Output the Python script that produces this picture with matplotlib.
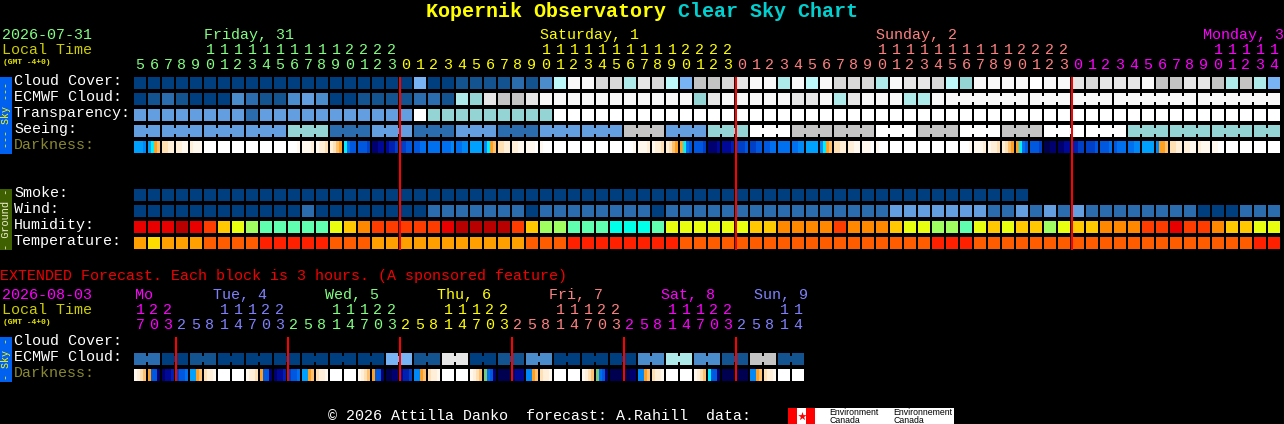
import matplotlib
matplotlib.use("Agg")
import matplotlib.pyplot as plt

# ---------- data ----------
cell_colors = dict(a="#003f7f", b="#13538f", c="#2a6cad", d="#4a8ccc", e="#639fe0", f="#77b3f5",
                   g="#bdf8fa", h="#aeeaea", i="#94d4d4", j="#c4c4c4", n="#d8d8d8", k="#e6e6e6",
                   l="#f8f8f8", m="#ffffff",
                   A="#b80000", B="#e80000", C="#ff3c00", D="#ff8800", E="#ffc800", F="#e8ff10",
                   G="#a0ff60", H="#60ffb0", I="#00ffe8",
                   P="#ffa000", Q="#ffdc00", R="#ff5c00", S="#ff2000")
dark_colors = {"0": "#ffffff", "1": "#fff8ee", "2": "#ffefd8", "3": "#ffdfb4", "4": "#ffc070",
               "5": "#ffa020", "6": "#00f0ff", "7": "#00a0ff", "8": "#0088f8", "9": "#0070f0",
               "a": "#0058e0", "b": "#0040c8", "c": "#0020b0", "d": "#000898", "e": "#000070",
               "f": "#000050", "g": "#78c878"}

cloud_cover = ("aaaaaaaaaa" "aaaaaaaaaa" "faabbbbcbd" "gllnnhkngf" "jjnkllhlgl"
               "nnnhlkkngi" "llllmllknk" "kkljjkkjhj" "hf")
ecmwf_cloud = ("abcbaaadcb" "bdedaabbbb" "ccbhikjjkl" "llllllllll" "iklllllkkl"
               "hklllhhlll" "llllllllll" "llllllllll" "ll")
ecmwf_groups = [(58, 63), (64, 66), (67, 69), (70, 75), (76, 81)]
transparency = ("eeeeeeeeceee" "eeeeeeee" "m" "iiiiiiiii" + "m" * 52)
seeing = ("ee" "eee" "eee" "eee" "iii" "ccc" "eee" "ccc" "eee" "ccc" "eee" "eee" "jjj" "eee"
          "iii" "mmm" "jjj" "jjj" "mmm" "jjj" "mmm" "jjj" "mmm" "mmm" "iii" "iii" "iii" "ii")
darkness = ["7778", "7654", "3322", "2211", "2111", "0000", "0000", "0000", "0000", "0000",
            "0000", "0001", "1112", "1223", "2345", "69aa", "aaab", "eedd", "dccb", "bbaa",
            "aa99", "9999", "9998", "9988", "7777", "8654", "3322", "2211", "1110", "1000",
            "0000", "0000", "0000", "0000", "0000", "0001", "1112", "1223", "2345", "569a",
            "aaab", "eeed", "dddc", "bbba", "bbaa", "aa99", "9999", "9988", "7777", "8654",
            "3322", "2211", "1110", "1000", "0000", "0000", "0000", "0000", "0000", "0001",
            "1112", "1223", "2345", "569a", "aaab", "ffee", "eedd", "ccbb", "bbba", "aaa9",
            "a999", "9988", "7777", "8554", "3322", "2211", "2111", "1100", "0000", "0000",
            "0000", "0000"]
smoke = "a" * 64
wind = ("aaaaaaaaaa" "aacaaaaaaa" "acccccccac" "cccccccacc" "cccccccccc"
        "cccceeeeee" "eccecececc" "ccccccaaac" "cc")
humidity = ("BBBABCEFGH" "HHHHFEDCCC" "CCBAAAACEG" "GHHHIIIHFF" "FFFFEEDDDD"
            "CDDDEFFGGH" "FEFEEGFEED" "DDCCBCCDEE" "FF")
temperature = ("PQPPPRRRRS" "SSSSRRRPPP" "PPPPPPPPRR" "RSSSSSSSSR" "RRRRRRRRRR"
               "RRRRRRRSSS" "RRRRRRRRRR" "RRRRRRRRRR" "SS")

ext_ecmwf_pairs = "cabaaaaaafbkabdaaadhdbjb"
ext_darkness = ["1234", "5aae", "eddc", "baa9", "7754", "3221", "0000", "0000",
                "1223", "5aae", "eddc", "baa9", "7754", "3221", "0000", "0000",
                "1234", "5aae", "ffee", "dccb", "8854", "3221", "0000", "0000",
                "1234", "g9ae", "ffff", "eddd", "8854", "3221", "0000", "0000",
                "1234", "g9ae", "ffff", "ffee", "8854", "3221", "0000", "0000",
                "1234", "6aae", "ffff", "ffff", "8854", "3221", "0000", "0000"]

GREEN, YELLOW, SALMON, MAGENTA, BLUE = "#80ff80", "#ffff00", "#ff8080", "#ff00ff", "#8080ff"
top_hours = [5, 6, 7, 8, 9, 10, 11, 12, 13, 14, 15, 16, 17, 18, 19, 20, 21, 22, 23] + \
            [0, 1, 2, 3, 4, 5, 6, 7, 8, 9, 10, 11, 12, 13, 14, 15, 16, 17, 18, 19, 20, 21, 22, 23] + \
            [0, 1, 2, 3, 4, 5, 6, 7, 8, 9, 10, 11, 12, 13, 14, 15, 16, 17, 18, 19, 20, 21, 22, 23] + \
            [0, 1, 2, 3, 4, 5, 6, 7, 8, 9, 10, 11, 12, 13, 14]
top_hour_colors = [GREEN] * 19 + [YELLOW] * 24 + [SALMON] * 24 + [MAGENTA] * 15
top_days = [("Friday, 31", 204, GREEN), ("Saturday, 1", 540, YELLOW),
            ("Sunday, 2", 876, SALMON), ("Monday, 3", 1203, MAGENTA)]
top_midnights = [19, 43, 67]

day_hours = [2, 5, 8, 11, 14, 17, 20, 23]
ext_hours = [17, 20, 23] + day_hours * 5 + [2, 5, 8, 11, 14]
ext_hour_colors = [MAGENTA] * 3 + [BLUE] * 8 + [GREEN] * 8 + [YELLOW] * 8 + [SALMON] * 8 + \
                  [MAGENTA] * 8 + [BLUE] * 5
ext_days = [("Mo", 135, MAGENTA), ("Tue, 4", 213, BLUE), ("Wed, 5", 325, GREEN),
            ("Thu, 6", 437, YELLOW), ("Fri, 7", 549, SALMON), ("Sat, 8", 661, MAGENTA),
            ("Sun, 9", 754, BLUE)]
ext_midnights = [3, 11, 19, 27, 35, 43]

# ---------- layout ----------
X0, PITCH, CELL = 134, 14, 12
FONT = "Liberation Mono"
FS = 10.8

fig = plt.figure(figsize=(12.84, 4.24), dpi=100, facecolor="black")
ax = fig.add_axes([0, 0, 1, 1])
ax.set_xlim(0, 1284)
ax.set_ylim(424, 0)
ax.axis("off")


def col_x(i):
    return X0 + PITCH * i


def box(x, y, w, h, color, zorder=2):
    ax.bar(x, h, width=w, bottom=y, align="edge", color=color, linewidth=0,
           antialiased=True, snap=False, zorder=zorder)


def text(x, y, s, color="#ffffff", size=FS, **kw):
    kw.setdefault("family", FONT)
    ax.text(x, y, s, color=color, fontsize=size, va="baseline", ha=kw.pop("ha", "left"),
            clip_on=True, **kw)


def draw_row(values, y, links=()):
    for i, v in enumerate(values):
        box(col_x(i), y, CELL, CELL, cell_colors[v])
    for a, b in links:
        for i in range(a, b):
            box(col_x(i) + CELL, y + 3, PITCH - CELL, 6, cell_colors[values[i]])


def draw_dark(values, y):
    for i, v in enumerate(values):
        for k, ch in enumerate(v):
            box(col_x(i) + 3 * k, y, 3, CELL, dark_colors[ch])


def draw_hours(hours, colors, y_tens, y_ones):
    for i, (h, c) in enumerate(zip(hours, colors)):
        cx = col_x(i) + 6
        if h >= 10:
            text(cx, y_tens, str(h // 10), c, ha="center")
        text(cx, y_ones, str(h % 10), c, ha="center")


# ---------- title ----------
text(426, 17, "Kopernik Observatory", "#ffff00", 14.4, weight="bold")
text(678, 17, "Clear Sky Chart", "#00d0d0", 14.4, weight="bold")

# ---------- top header ----------
text(2, 39, "2026-07-31", GREEN)
text(2, 54, "Local Time", "#cccc00")
text(3, 64, "(GMT -4+0)", "#e8e800", 5.8, weight="bold")
for label, x, c in top_days:
    text(x, 39, label, c)
draw_hours(top_hours, top_hour_colors, 54, 69)

# ---------- top rows ----------
for label, y, c in [("Cloud Cover:", 85, "#ffffff"), ("ECMWF Cloud:", 101, "#ffffff"),
                    ("Transparency:", 117, "#ffffff"), ("Seeing:", 133, "#ffffff"),
                    ("Darkness:", 149, "#888830"), ("Smoke:", 197, "#ffffff"),
                    ("Wind:", 213, "#ffffff"), ("Humidity:", 229, "#ffffff"),
                    ("Temperature:", 245, "#ffffff")]:
    text(14, y, label, c)

draw_row(cloud_cover, 77)
draw_row(ecmwf_cloud, 93, ecmwf_groups)
draw_row(transparency, 109)
seeing_links = [(0, 1)] + [(s, min(s + 2, 81)) for s in range(2, 82, 3)]
draw_row(seeing, 125, seeing_links)
draw_dark(darkness, 141)
draw_row(smoke, 189)
draw_row(wind, 205)
draw_row(humidity, 221)
draw_row(temperature, 237)

for c in top_midnights:
    box(col_x(c) - 1, 77, 2, 173, "#ff0000", zorder=4)

# ---------- side bars ----------
box(0, 77, 12, 77, "#0060f0")
ax.text(6, 115.5, "--- Sky ---", color="#ffff00", rotation=90, family=FONT, fontsize=7.2,
        ha="center", va="center")
box(0, 189, 12, 61, "#3f6000")
ax.text(6, 219.5, "- Ground -", color="#f0f0d0", rotation=90, family=FONT, fontsize=7.4,
        ha="center", va="center")
box(0, 337, 12, 45, "#0060f0")
ax.text(6, 359.5, "- Sky -", color="#ffff00", rotation=90, family=FONT, fontsize=7.2,
        ha="center", va="center")

# ---------- extended ----------
text(0, 280, "EXTENDED Forecast. Each block is 3 hours. (A sponsored feature)", "#f00000")
text(2, 299, "2026-08-03", MAGENTA)
text(2, 314, "Local Time", "#cccc00")
text(3, 324, "(GMT -4+0)", "#e8e800", 5.8, weight="bold")
for label, x, c in ext_days:
    text(x, 299, label, c)
draw_hours(ext_hours, ext_hour_colors, 314, 329)
text(14, 345, "Cloud Cover:")
text(14, 361, "ECMWF Cloud:")
text(14, 377, "Darkness:", "#888830")

ext_ecmwf = "".join(p * 2 for p in ext_ecmwf_pairs)
draw_row(ext_ecmwf, 353, [(s, s + 1) for s in range(0, 48, 2)])
draw_dark(ext_darkness, 369)
for c in ext_midnights:
    box(col_x(c) - 1, 337, 2, 44, "#ff0000", zorder=4)

# ---------- footer ----------
text(328, 420, "\u00a9 2026 Attilla Danko  forecast: A.Rahill  data:")
box(788, 408, 166, 16, "#ffffff")
box(788, 408, 9, 16, "#ff0000", zorder=3)
box(806, 408, 9, 16, "#ff0000", zorder=3)
ax.scatter([801.5], [415.5], marker="*", s=42, color="#ff0000", linewidths=0, zorder=3)
for x, a, b in [(829, "Environment", "Canada"), (893, "Environnement", "Canada")]:
    text(x, 415, a, "#000000", 6.3, family="Liberation Sans", zorder=4)
    text(x, 423, b, "#000000", 6.3, family="Liberation Sans", zorder=4)

fig.savefig("out.png", dpi=100, facecolor="black")
